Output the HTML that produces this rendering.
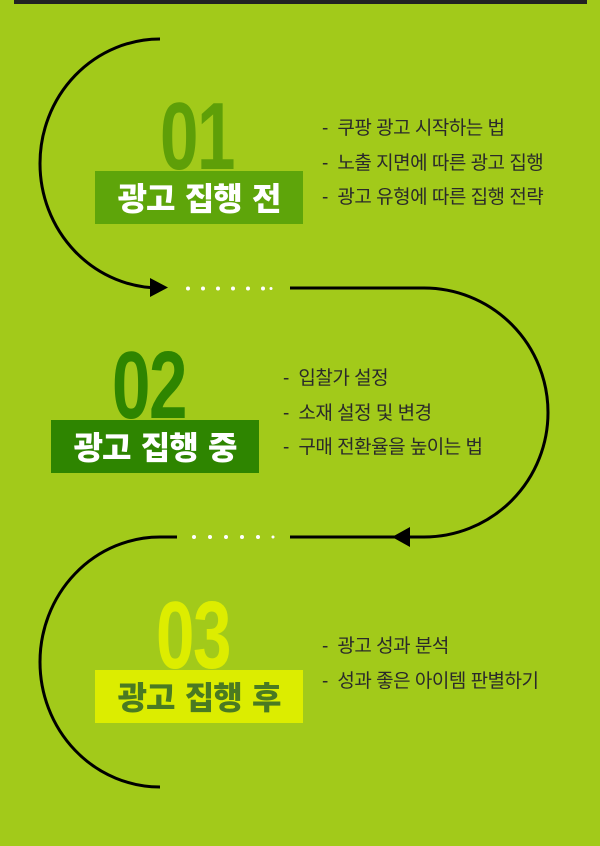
<!DOCTYPE html>
<html><head><meta charset="utf-8"><style>
*{margin:0;padding:0;box-sizing:border-box}
body{width:600px;height:846px;background:#a2ca1a;position:relative;overflow:hidden;font-family:"Liberation Sans","Noto Sans CJK KR",sans-serif}
.bar{position:absolute;left:14px;top:0;width:573px;height:4px;background:#222}
.num{position:absolute;font-family:"Liberation Sans",sans-serif;font-weight:bold;font-size:96px;line-height:72px;height:72px;transform:scaleX(0.72);transform-origin:left top;letter-spacing:-2px}
.box{position:absolute;width:208px;height:53px;font-family:"Noto Sans CJK KR",sans-serif;font-weight:900;font-size:32px;text-align:center;line-height:53px;letter-spacing:-1px;word-spacing:4px}
.list{position:absolute;font-size:19px;color:#2a2a2a;line-height:34.5px;white-space:nowrap;letter-spacing:-0.5px}
</style></head><body>
<div class="bar"></div>
<svg width="600" height="846" style="position:absolute;left:0;top:0">
<g fill="none" stroke="#000" stroke-width="3">
<path d="M160 39 A120 124.5 0 0 0 160 288"/>
<path d="M290 288 H424 A124 124.5 0 0 1 424 537 H290"/>
<path d="M177 537 H160 A120 125 0 0 0 160 787"/>
</g>
<polygon points="150,278 168,287.5 150,297" fill="#000"/>
<polygon points="410,527 392,537 410,547" fill="#000"/>
<g fill="#fff">
<circle cx="188" cy="288.5" r="2"/><circle cx="203" cy="288.5" r="2"/><circle cx="218" cy="288.5" r="2"/><circle cx="233" cy="288.5" r="2"/><circle cx="248" cy="288.5" r="2"/><circle cx="263" cy="288.5" r="2"/><circle cx="271" cy="288.5" r="1.5"/>
<circle cx="194" cy="537" r="2"/><circle cx="210" cy="537" r="2"/><circle cx="226" cy="537" r="2"/><circle cx="242" cy="537" r="2"/><circle cx="258" cy="537" r="2"/><circle cx="273" cy="537" r="1.5"/>
</g>
</svg>
<div class="num" style="left:160px;top:101px;color:#5e9f08">01</div>
<div class="box" style="left:95px;top:171px;background:#5ea50a;color:#fff">광고 집행 전</div>
<div class="list" style="left:322px;top:112px">-&nbsp; 쿠팡 광고 시작하는 법<br>-&nbsp; 노출 지면에 따른 광고 집행<br>-&nbsp; 광고 유형에 따른 집행 전략</div>
<div class="num" style="left:112px;top:350px;color:#2e8500">02</div>
<div class="box" style="left:51px;top:420px;background:#2e8500;color:#fff">광고 집행 중</div>
<div class="list" style="left:283px;top:362px">-&nbsp; 입찰가 설정<br>-&nbsp; 소재 설정 및 변경<br>-&nbsp; 구매 전환율을 높이는 법</div>
<div class="num" style="left:156px;top:600px;color:#dded00">03</div>
<div class="box" style="left:95px;top:670px;background:#dced00;color:#4a7a22">광고 집행 후</div>
<div class="list" style="left:322px;top:630px">-&nbsp; 광고 성과 분석<br>-&nbsp; 성과 좋은 아이템 판별하기</div>
</body></html>
